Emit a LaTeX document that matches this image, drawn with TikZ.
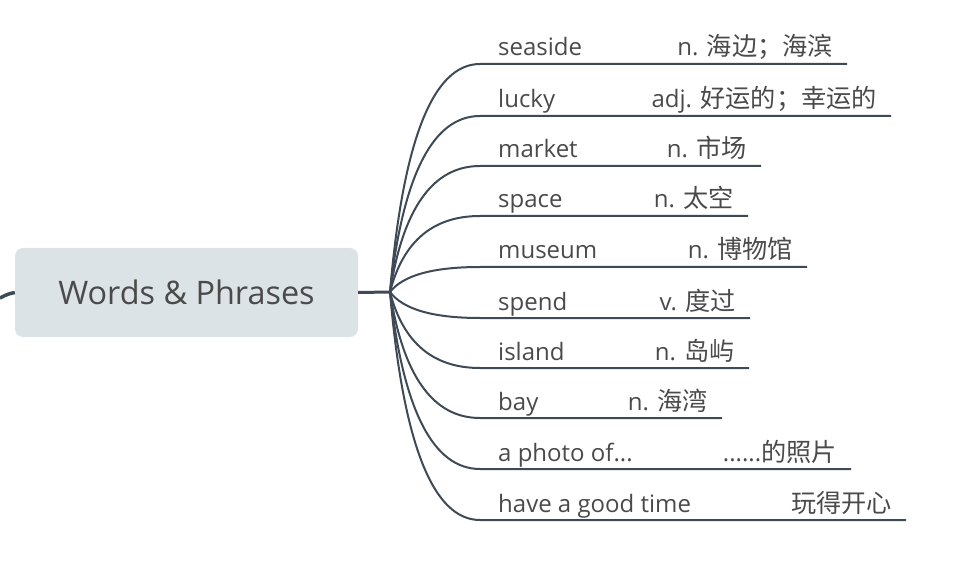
\documentclass[tikz,border=0pt]{standalone}
\usepackage{fontspec}
\setmainfont{Open Sans}
\newfontfamily\cjk[Scale=1.05]{Noto Sans CJK SC}
\definecolor{linegray}{HTML}{3E4A55}
\definecolor{textgray}{HTML}{4A4A4A}
\definecolor{rootfill}{HTML}{DCE3E6}
\newcommand{\threedots}{...}

\begin{document}
\begin{tikzpicture}[x=1pt, y=-1pt,
  every node/.style={inner sep=0pt, text=textgray},
  topic/.style={rectangle, rounded corners=8pt, fill=rootfill,
    minimum width=343pt, minimum height=89pt, font=\fontsize{32.4}{38}\selectfont},
  word/.style={anchor=base west, font=\fontsize{24}{28}\selectfont},
  meaning/.style={anchor=base east, font=\fontsize{24}{28}\selectfont},
  branch/.style={draw=linegray, line width=2pt}
  ]
  \useasboundingbox (0,0) rectangle (977,577);
  \node[topic] (root) at (186.5,292.5) {Words \& Phrases};
  \coordinate (hub) at (390,292);
  \coordinate (in) at (0,298);
  \draw[branch, line width=3.5pt] (in) .. controls (8,294) .. (root.west);
  \draw[branch, line width=3pt] (root.east) -- (hub);
  % one branch per word: underline, word, meaning
  \foreach \y/\xe/\en/\zh [count=\i] in {
      64/847/seaside/n. \cjk 海边；海滨,
      116/891/lucky/adj. \cjk 好运的；幸运的,
      166/761/market/n. \cjk 市场,
      216/748/space/n. \cjk 太空,
      267/807/museum/n. \cjk 博物馆,
      318/750/spend/v. \cjk 度过,
      368/749/island/n. \cjk 岛屿,
      418/722/bay/n. \cjk 海湾,
      469/851/a photo of\threedots/\threedots\threedots\cjk 的照片,
      520/906/have a good time/\cjk 玩得开心}
  {
    \coordinate (s\i) at (480,\y);
    \coordinate (e\i) at (\xe,\y);
    \node[word] (en\i) at ([shift={(18,-8)}]s\i) {\en};
    \node[meaning] (zh\i) at ([shift={(-14,-8)}]e\i) {\zh};
    \draw[branch] (hub) .. controls +(13,{(\y-292)*2/3}) and (433,\y) .. (s\i) -- (e\i);
  }
\end{tikzpicture}
\end{document}
